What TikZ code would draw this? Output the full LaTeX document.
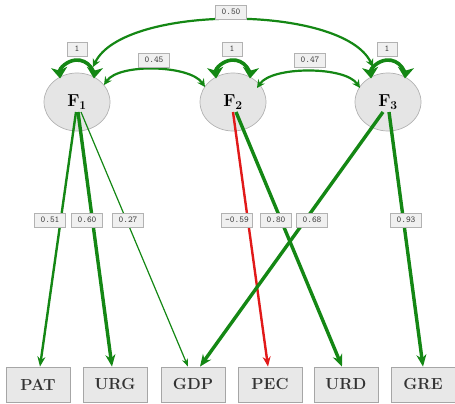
\documentclass[tikz,border=0pt]{standalone}
\usetikzlibrary{arrows.meta,shapes.geometric,calc}
\definecolor{sgreen}{RGB}{20,135,20}
\definecolor{sred}{RGB}{225,25,25}
\begin{document}
\begin{tikzpicture}[x=1pt,y=1pt,
  factor/.style={ellipse, draw=gray!60, line width=0.7pt, fill=gray!20, minimum width=66pt, minimum height=58pt, inner sep=0pt, font=\fontsize{18}{21}\selectfont},
  obs/.style={rectangle, draw=gray!70, line width=0.8pt, fill=gray!18, minimum width=64pt, minimum height=35pt, inner sep=0pt, font=\fontsize{16}{19}\selectfont\bfseries, text=black!80},
  lab/.style={rectangle, draw=gray!60, line width=0.6pt, fill=gray!12, minimum width=31pt, minimum height=14pt, inner xsep=3pt, inner ysep=1pt, font=\fontsize{9}{10}\selectfont\ttfamily, text=black!75},
  onelab/.style={lab, minimum width=20pt},
  selfloop/.style={draw=sgreen, line width=3.6pt, {Stealth[length=11pt,width=16pt,inset=3pt]}-{Stealth[length=11pt,width=16pt,inset=3pt]}},
  cov/.style={draw=sgreen, line width=2.2pt, {Stealth[length=8pt,width=8pt]}-{Stealth[length=8pt,width=8pt]}},
  thinpath/.style={draw=sgreen, line width=1.2pt, -{Stealth[length=8pt,width=6pt]}},
  medpath/.style={draw=sgreen, line width=2.4pt, -{Stealth[length=10pt,width=8pt]}},
  thickpath/.style={draw=sgreen, line width=3.4pt, -{Stealth[length=12pt,width=10pt]}},
  redpath/.style={draw=sred, line width=2.4pt, -{Stealth[length=10pt,width=8pt]}}
]
\useasboundingbox (0,0) rectangle (455,-404);

% latent factors
\node[factor] (F1) at (77,-102) {$\mathbf{F_1}$};
\node[factor] (F2) at (233,-102) {$\mathbf{F_2}$};
\node[factor] (F3) at (388,-102) {$\mathbf{F_3}$};

% observed variables
\node[obs] (PAT) at (38,-384.5) {PAT};
\node[obs] (URG) at (115,-384.5) {URG};
\node[obs] (GDP) at (193,-384.5) {GDP};
\node[obs] (PEC) at (270,-384.5) {PEC};
\node[obs] (URD) at (346,-384.5) {URD};
\node[obs] (GRE) at (423,-384.5) {GRE};

% start points of loadings
\coordinate (F1a) at ($(F1.center)+(-1,-10)$);
\coordinate (F1b) at ($(F1.center)+(1,-10)$);
\coordinate (F1c) at ($(F1.center)+(4,-10)$);
\coordinate (F2r) at ($(F2.center)+(0,-10)$);
\coordinate (F2g) at ($(F2.center)+(3,-10)$);
\coordinate (F3a) at ($(F3.center)+(-5,-10)$);
\coordinate (F3b) at ($(F3.center)+(1,-10)$);

% loadings
\draw[medpath] (F1a) -- ([xshift=2pt]PAT.north);
\draw[thickpath] (F1b) -- ([xshift=-3pt]URG.north);
\draw[thinpath] (F1c) -- ([xshift=-5pt]GDP.north);
\draw[redpath] (F2r) -- ([xshift=-2pt]PEC.north);
\draw[thickpath] (F2g) -- ([xshift=-4pt]URD.north);
\draw[thickpath] (F3a) -- ([xshift=7pt]GDP.north);
\draw[thickpath] (F3b) -- (GRE.north);

% variances (self loops)
\coordinate (L1) at ($(F1.center)+(-16.9,23.5)$);
\coordinate (L2) at ($(F2.center)+(-16.9,23.5)$);
\coordinate (L3) at ($(F3.center)+(-16.9,23.5)$);
\draw[selfloop] (L1) arc[start angle=185,end angle=-5,radius=17];
\draw[selfloop] (L2) arc[start angle=185,end angle=-5,radius=17];
\draw[selfloop] (L3) arc[start angle=185,end angle=-5,radius=17];

% covariances
\coordinate (C12a) at ($(F1.center)+(27,17)$);
\coordinate (C12b) at ($(F2.center)+(-28,15)$);
\coordinate (C23a) at ($(F2.center)+(24,14)$);
\coordinate (C23b) at ($(F3.center)+(-28,14)$);
\coordinate (C13a) at ($(F1.center)+(16,35)$);
\coordinate (C13b) at ($(F3.center)+(-15,35)$);
\draw[cov] (C12a) .. controls +(15,22) and +(-15,22) .. (C12b);
\draw[cov] (C23a) .. controls +(15,22) and +(-15,22) .. (C23b);
\draw[cov] (C13a) .. controls +(30,63) and +(-30,63) .. (C13b);

% labels
\node[onelab] (v1) at (77,-49) {1};
\node[onelab] (v2) at (232,-49) {1};
\node[onelab] (v3) at (387,-49) {1};
\node[lab] (c12) at (154,-60) {0.45};
\node[lab] (c23) at (310,-60) {0.47};
\node[lab] (c13) at (231,-12) {0.50};
\node[lab] (l1) at (50,-220) {0.51};
\node[lab] (l2) at (87,-220) {0.60};
\node[lab] (l3) at (128,-220) {0.27};
\node[lab] (l4) at (237,-220) {-0.59};
\node[lab] (l5) at (276,-220) {0.80};
\node[lab] (l6) at (312,-220) {0.68};
\node[lab] (l7) at (406,-220) {0.93};
\end{tikzpicture}
\end{document}
